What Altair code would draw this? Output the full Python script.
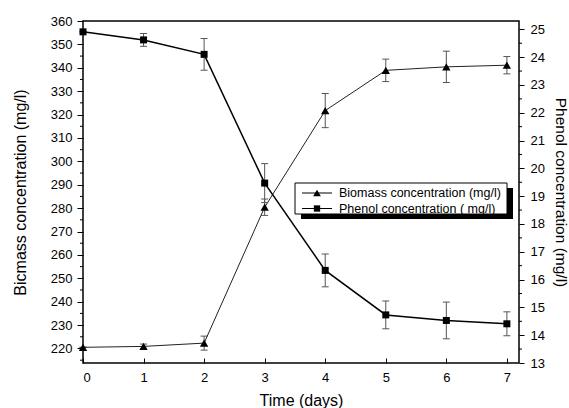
import altair as alt
import pandas as pd

# ---- data ----
days = [0, 1, 2, 3, 4, 5, 6, 7]
biomass = [220.5, 220.9, 222.3, 280.4, 321.7, 338.9, 340.4, 341.1]
biomass_err = [0.0, 1.0, 3.0, 3.5, 7.3, 4.8, 6.7, 3.7]
phenol = [24.91, 24.62, 24.10, 19.47, 16.33, 14.73, 14.53, 14.41]
phenol_err = [0.0, 0.23, 0.57, 0.70, 0.59, 0.50, 0.66, 0.43]
series_names = ["Biomass concentration (mg/l)", "Phenol concentration ( mg/l)"]

left_ticks = list(range(220, 361, 10))
left_minor = list(range(215, 360, 10))
right_ticks = list(range(13, 26))
right_minor = [13.5 + i for i in range(12)]

FONT = "Liberation Sans"

df = pd.DataFrame({
    "day": days,
    "bio": biomass,
    "bio_lo": [v - e for v, e in zip(biomass, biomass_err)],
    "bio_hi": [v + e for v, e in zip(biomass, biomass_err)],
    "phe": phenol,
    "phe_lo": [v - e for v, e in zip(phenol, phenol_err)],
    "phe_hi": [v + e for v, e in zip(phenol, phenol_err)],
})

x_scale = alt.Scale(domain=[0, 7.2], nice=False, zero=False)
x_axis = alt.Axis(values=days, title="Time (days)", offset=-5, tickSize=5,
                  labelPadding=8, titlePadding=8, format="d")
X = alt.X("day:Q", scale=x_scale, axis=x_axis)

bio_scale = alt.Scale(domain=[213.8, 360], nice=False, zero=False)
bio_axis = alt.Axis(values=left_ticks, title="Bicmass concentration (mg/l)", orient="left",
                    tickSize=6, labelPadding=5, titlePadding=22)
phe_scale = alt.Scale(domain=[13, 25.3], nice=False, zero=False)
phe_axis = alt.Axis(values=right_ticks, title="Phenol concentration (mg/l)", orient="right",
                    tickSize=5, labelPadding=6, titlePadding=8, titleFontSize=15.5)


def yb(field):
    return alt.Y(field + ":Q", scale=bio_scale, axis=bio_axis)


def yp(field):
    return alt.Y(field + ":Q", scale=phe_scale, axis=phe_axis)


base = alt.Chart(df)
ERR_COLOR = "#555555"

bio_group = alt.layer(
    base.mark_rule(color=ERR_COLOR, strokeWidth=1).encode(x=X, y=yb("bio_lo"), y2="bio_hi"),
    base.mark_rule(color=ERR_COLOR, strokeWidth=1, xOffset=-3.5, x2Offset=3.5).encode(
        x=X, x2="day", y=yb("bio_lo")),
    base.mark_rule(color=ERR_COLOR, strokeWidth=1, xOffset=-3.5, x2Offset=3.5).encode(
        x=X, x2="day", y=yb("bio_hi")),
    base.mark_line(color="#222222", strokeWidth=1).encode(x=X, y=yb("bio")),
    base.mark_point(shape="triangle-up", filled=True, color="black", opacity=1, size=70).encode(
        x=X, y=yb("bio")),
    alt.Chart(pd.DataFrame({"v": left_minor})).mark_rule(color="black").encode(
        y=yb("v"), x=alt.value(0), x2=alt.value(-3)),
)

phe_group = alt.layer(
    base.mark_rule(color=ERR_COLOR, strokeWidth=1).encode(x=X, y=yp("phe_lo"), y2="phe_hi"),
    base.mark_rule(color=ERR_COLOR, strokeWidth=1, xOffset=-3.5, x2Offset=3.5).encode(
        x=X, x2="day", y=yp("phe_lo")),
    base.mark_rule(color=ERR_COLOR, strokeWidth=1, xOffset=-3.5, x2Offset=3.5).encode(
        x=X, x2="day", y=yp("phe_hi")),
    base.mark_line(color="black", strokeWidth=1.5).encode(x=X, y=yp("phe")),
    base.mark_point(shape="square", filled=True, color="black", opacity=1, size=49).encode(
        x=X, y=yp("phe")),
    alt.Chart(pd.DataFrame({"v": right_minor})).mark_rule(color="black").encode(
        y=yp("v"), x=alt.value(436), x2=alt.value(439)),
)

# ---- hand-built legend (box with drop shadow) ----
one = pd.DataFrame({"a": [0]})
LX0, LX1, LY0, LY1 = 212, 424, 162, 193
ROW = [172, 187.5]
SYM_X0, SYM_X1, SYM_C, TXT_X = 219, 249, 234, 256

legend_parts = [
    alt.Chart(one).mark_rect(color="black").encode(
        x=alt.value(LX0 + 6), x2=alt.value(LX1 + 6), y=alt.value(LY0 + 5), y2=alt.value(LY1 + 5)),
    alt.Chart(one).mark_rect(fill="white", stroke="black", strokeWidth=1).encode(
        x=alt.value(LX0), x2=alt.value(LX1), y=alt.value(LY0), y2=alt.value(LY1)),
]
shapes = ["triangle-up", "square"]
sizes = [60, 40]
for i, name in enumerate(series_names):
    row_df = pd.DataFrame({"s": [name]})
    legend_parts += [
        alt.Chart(row_df).mark_rule(color="black", strokeWidth=1).encode(
            x=alt.value(SYM_X0), x2=alt.value(SYM_X1), y=alt.value(ROW[i])),
        alt.Chart(row_df).mark_point(shape=shapes[i], filled=True, color="black", opacity=1,
                                     size=sizes[i]).encode(
            x=alt.value(SYM_C), y=alt.value(ROW[i])),
        alt.Chart(row_df).mark_text(align="left", baseline="middle", font=FONT, fontSize=12.5,
                                    color="black").encode(
            x=alt.value(TXT_X), y=alt.value(ROW[i]), text="s:N"),
    ]

chart = alt.layer(bio_group, phe_group, *legend_parts).resolve_scale(
    y="independent"
).properties(
    width=436, height=342,
    autosize=alt.AutoSizeParams(type="none"),
    padding={"left": 83, "top": 21, "right": 50, "bottom": 45},
    background="white",
).configure_view(
    stroke="black", strokeWidth=1.5
).configure_axis(
    domain=False, grid=False, tickColor="black", tickWidth=1,
    labelFont=FONT, labelFontSize=13, labelColor="black",
    titleFont=FONT, titleFontSize=16, titleFontWeight="normal", titleColor="black",
)

chart.save("out.html", embed_options={"renderer": "svg", "actions": False})
